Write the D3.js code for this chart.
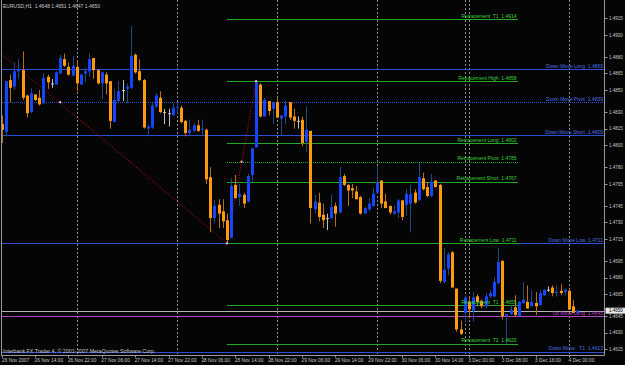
<!DOCTYPE html>
<html>
<head>
<meta charset="utf-8">
<script src="https://cdn.jsdelivr.net/npm/d3@7"></script>
<style>
  html, body { margin: 0; padding: 0; background: #050505; }
  svg { display: block; font-family: "Liberation Sans", Arial, sans-serif; }
</style>
</head>
<body>
<svg id="chart" width="625" height="365"></svg>
<script>
/* ── Data: EURUSD H1, first bar 26 Nov 2007 06:00 ─────────────────────────── */
const opens = [
  1.4819,1.4812,1.4859,1.4853,1.4867,1.4868,1.4845,1.4830,1.4846,1.4843,
  1.4838,1.4862,1.4856,1.4855,1.4865,1.4878,1.4871,1.4863,1.4871,1.4855,
  1.4865,1.4867,1.4879,1.4868,1.4856,1.4864,1.4858,1.4821,1.4840,1.4850,
  1.4851,1.4852,1.4882,1.4867,1.4859,1.4815,1.4816,1.4835,1.4843,1.4830,
  1.4829,1.4827,1.4834,1.4834,1.4822,1.4811,1.4813,1.4818,1.4814,1.4814,
  1.4771,1.4734,1.4746,1.4740,1.4732,1.4716,1.4764,1.4753,1.4755,1.4749,
  1.4773,1.4798,1.4855,1.4826,1.4840,1.4833,1.4839,1.4824,1.4826,1.4839,
  1.4826,1.4822,1.4823,1.4803,1.4813,1.4742,1.4748,1.4737,1.4734,1.4734,
  1.4745,1.4739,1.4772,1.4764,1.4761,1.4758,1.4753,1.4738,1.4742,1.4745,
  1.4757,1.4768,1.4749,1.4745,1.4738,1.4739,1.4750,1.4746,1.4747,1.4757,
  1.4750,1.4770,1.4762,1.4754,1.4768,1.4764,1.4676,1.4688,1.4703,1.4670,
  1.4633,1.4648,1.4658,1.4650,1.4663,1.4659,1.4654,1.4663,1.4663,1.4675,
  1.4695,1.4645,1.4647,1.4653,1.4645,1.4657,1.4658,1.4654,1.4657,1.4655,
  1.4664,1.4669,1.4671,1.4666,1.4668,1.4667,1.4668,1.4654,1.4648
];
const highs = [
  1.4827,1.4858,1.4864,1.4875,1.4878,1.4885,1.4846,1.4852,1.4846,1.4850,
  1.4865,1.4864,1.4860,1.4867,1.4882,1.4883,1.4875,1.4881,1.4877,1.4865,
  1.4870,1.4883,1.4879,1.4869,1.4867,1.4866,1.4858,1.4851,1.4858,1.4859,
  1.4856,1.4908,1.4883,1.4878,1.4860,1.4819,1.4838,1.4847,1.4849,1.4833,
  1.4833,1.4838,1.4839,1.4836,1.4823,1.4823,1.4820,1.4823,1.4823,1.4815,
  1.4780,1.4750,1.4751,1.4751,1.4738,1.4770,1.4773,1.4765,1.4757,1.4774,
  1.4798,1.4858,1.4856,1.4843,1.4840,1.4839,1.4843,1.4827,1.4840,1.4839,
  1.4833,1.4826,1.4826,1.4835,1.4813,1.4755,1.4757,1.4747,1.4738,1.4755,
  1.4748,1.4780,1.4774,1.4765,1.4765,1.4763,1.4754,1.4744,1.4752,1.4761,
  1.4781,1.4768,1.4756,1.4745,1.4745,1.4751,1.4750,1.4760,1.4764,1.4760,
  1.4784,1.4775,1.4766,1.4774,1.4768,1.4765,1.4707,1.4703,1.4704,1.4670,
  1.4641,1.4664,1.4663,1.4667,1.4665,1.4660,1.4666,1.4669,1.4680,1.4707,
  1.4696,1.4647,1.4654,1.4664,1.4659,1.4676,1.4673,1.4669,1.4667,1.4669,
  1.4669,1.4672,1.4673,1.4673,1.4674,1.4670,1.4670,1.4660,1.4651
];
const lows = [
  1.4802,1.4808,1.4839,1.4850,1.4860,1.4841,1.4825,1.4829,1.4840,1.4836,
  1.4837,1.4851,1.4852,1.4855,1.4865,1.4871,1.4863,1.4863,1.4849,1.4855,
  1.4857,1.4862,1.4860,1.4855,1.4842,1.4846,1.4815,1.4821,1.4838,1.4840,
  1.4838,1.4851,1.4865,1.4858,1.4815,1.4808,1.4815,1.4834,1.4829,1.4819,
  1.4817,1.4827,1.4829,1.4820,1.4808,1.4809,1.4812,1.4812,1.4808,1.4765,
  1.4721,1.4729,1.4725,1.4725,1.4711,1.4716,1.4752,1.4745,1.4743,1.4748,
  1.4767,1.4798,1.4825,1.4826,1.4827,1.4819,1.4825,1.4808,1.4819,1.4823,
  1.4815,1.4815,1.4799,1.4794,1.4729,1.4738,1.4731,1.4725,1.4723,1.4733,
  1.4726,1.4738,1.4763,1.4745,1.4752,1.4751,1.4737,1.4738,1.4740,1.4744,
  1.4756,1.4743,1.4743,1.4737,1.4737,1.4734,1.4732,1.4736,1.4721,1.4747,
  1.4750,1.4759,1.4753,1.4753,1.4762,1.4675,1.4675,1.4682,1.4671,1.4631,
  1.4628,1.4639,1.4643,1.4640,1.4654,1.4652,1.4652,1.4661,1.4662,1.4674,
  1.4642,1.4620,1.4646,1.4645,1.4645,1.4656,1.4652,1.4654,1.4646,1.4655,
  1.4663,1.4667,1.4663,1.4663,1.4664,1.4664,1.4651,1.4648,1.4647
];
const closes = [
  1.4814,1.4858,1.4852,1.4867,1.4869,1.4843,1.4829,1.4847,1.4841,1.4837,
  1.4861,1.4857,1.4856,1.4866,1.4879,1.4872,1.4864,1.4872,1.4856,1.4864,
  1.4867,1.4878,1.4868,1.4856,1.4866,1.4856,1.4822,1.4841,1.4849,1.4850,
  1.4853,1.4881,1.4866,1.4859,1.4816,1.4817,1.4836,1.4845,1.4830,1.4830,
  1.4829,1.4834,1.4835,1.4821,1.4811,1.4814,1.4818,1.4813,1.4815,1.4769,
  1.4734,1.4745,1.4738,1.4731,1.4714,1.4763,1.4752,1.4756,1.4747,1.4772,
  1.4797,1.4857,1.4826,1.4841,1.4831,1.4839,1.4825,1.4827,1.4836,1.4825,
  1.4822,1.4822,1.4802,1.4814,1.4743,1.4749,1.4735,1.4732,1.4734,1.4744,
  1.4738,1.4771,1.4764,1.4759,1.4759,1.4751,1.4738,1.4743,1.4747,1.4756,
  1.4766,1.4747,1.4743,1.4739,1.4740,1.4750,1.4735,1.4756,1.4756,1.4748,
  1.4771,1.4760,1.4754,1.4767,1.4762,1.4677,1.4687,1.4701,1.4671,1.4633,
  1.4629,1.4662,1.4651,1.4662,1.4658,1.4654,1.4663,1.4666,1.4676,1.4694,
  1.4645,1.4647,1.4651,1.4646,1.4658,1.4660,1.4652,1.4658,1.4654,1.4666,
  1.4669,1.4669,1.4666,1.4667,1.4666,1.4669,1.4651,1.4648,1.4650
];

// time axis labels, one every 8 bars
const timeLabelBars = [0, 8, 16, 24, 32, 40, 48, 56, 64, 72, 80, 88, 96, 104, 112, 120, 128, 136];
const timeLabels = [
  "26 Nov 2007", "26 Nov 14:00", "26 Nov 22:00", "27 Nov 06:00", "27 Nov 14:00",
  "27 Nov 22:00", "28 Nov 06:00", "28 Nov 14:00", "28 Nov 22:00", "29 Nov 06:00",
  "29 Nov 14:00", "29 Nov 22:00", "30 Nov 06:00", "30 Nov 14:00", "3 Dec 00:00",
  "3 Dec 08:00", "3 Dec 16:00", "4 Dec 00:00"
];
const separatorBars = [18, 42, 66, 90, 111, 112, 136];

// price axis
const priceTicks = [
  1.4915, 1.4900, 1.4880, 1.4865, 1.4850, 1.4830, 1.4815, 1.4800, 1.4780,
  1.4765, 1.4745, 1.4730, 1.4715, 1.4695, 1.4680, 1.4665, 1.4645, 1.4630, 1.4615
];
const bidPrice = 1.4650;

// fibo levels drawn by the indicator
const downMoveNames  = ["Down Move Long", "Down Move Pivot", "Down Move Short", "Down Move Low", "Down Move   T1"];
const downMoveValues = [1.4869, 1.4839, 1.4809, 1.4711, 1.4613];
const downMoveDotted = [false, true, false, false, false];

const retrNames  = ["Retracement  T1", "Retracement High", "Retracement Long", "Retracement Pivot",
                    "Retracement Short", "Retracement Low", "Retracement  T1", "Retracement  T2"];
const retrValues = [1.4914, 1.4858, 1.4802, 1.4785, 1.4767, 1.4711, 1.4655, 1.4620];
const retrDotted = [false, false, false, true, false, false, false, false];
const retrStartBar = 54, retrEndBar = 123.7;

const upMoveName = "Up Move Long", upMoveValue = 1.4645;

// zigzag swing points [bar, price] and the pivot marks on its legs
const zigzagBars   = [-27, 54, 61];
const zigzagPrices = [1.4968, 1.4711, 1.4858];
const markBars   = [14, 54, 57.5, 61];
const markPrices = [1.4839, 1.4711, 1.4785, 1.4858];

/* ── Colors ─────────────────────────────────────────────────────────────────── */
const BG = "#050505", AXIS = "#9a9a9a", TEXT = "#c8c8c8";
const BULL = "#1446ff", BEAR = "#ff9a0e", DOJI = "#c0c0c0";
const BULL_WICK = "#1d4a82", BEAR_WICK = "#b8700c";
const GREEN_LINE = "#22a822", GREEN_TEXT = "#3ccf3c";
const BLUE_LINE = "#2a4ed8", BLUE_TEXT = "#4a6fe0";
const MAGENTA = "#b044c4";

/* ── Layout ─────────────────────────────────────────────────────────────────── */
const W = 625, H = 365;
const plotRight = 604.5, plotBottom = 355.5;

const svg = d3.select("#chart");
svg.append("rect").attr("width", W).attr("height", H).attr("fill", BG);

const x = d3.scaleLinear().domain([0, 144.4]).range([1.7, 604]);
const y = d3.scaleLinear().domain([1.4615, 1.4915]).range([349.3, 18.3]);
const px = v => Math.round(v) + 0.5;

svg.append("clipPath").attr("id", "plot-clip")
  .append("rect").attr("x", 1).attr("y", 0).attr("width", plotRight - 1).attr("height", plotBottom);

const plot = svg.append("g").attr("clip-path", "url(#plot-clip)");

/* ── Period separators ──────────────────────────────────────────────────────── */
plot.selectAll("line.sep")
  .data(separatorBars)
  .join("line")
  .attr("class", "sep")
  .attr("x1", d => px(x(d))).attr("x2", d => px(x(d)))
  .attr("y1", 0).attr("y2", plotBottom)
  .attr("stroke", "#8a8a8a").attr("stroke-width", 1)
  .attr("stroke-dasharray", "2,2");

/* ── Horizontal levels ──────────────────────────────────────────────────────── */
const downMove = downMoveNames.map((n, i) => ({ name: n, value: downMoveValues[i], dotted: downMoveDotted[i] }));
const retr = retrNames.map((n, i) => ({ name: n, value: retrValues[i], dotted: retrDotted[i] }));

plot.selectAll("line.dm")
  .data(downMove)
  .join("line")
  .attr("class", "dm")
  .attr("x1", 0).attr("x2", plotRight)
  .attr("y1", d => px(y(d.value))).attr("y2", d => px(y(d.value)))
  .attr("stroke", BLUE_LINE).attr("stroke-width", 1)
  .attr("shape-rendering", "crispEdges")
  .attr("stroke-dasharray", d => d.dotted ? "1,1" : null);

plot.selectAll("line.rt")
  .data(retr)
  .join("line")
  .attr("class", "rt")
  .attr("x1", x(retrStartBar)).attr("x2", x(retrEndBar))
  .attr("y1", d => px(y(d.value))).attr("y2", d => px(y(d.value)))
  .attr("stroke", GREEN_LINE).attr("stroke-width", 1)
  .attr("shape-rendering", "crispEdges")
  .attr("stroke-dasharray", d => d.dotted ? "1,1" : null);

// bid line and up-move level
plot.append("line")
  .attr("x1", 0).attr("x2", plotRight)
  .attr("y1", px(y(bidPrice))).attr("y2", px(y(bidPrice)))
  .attr("shape-rendering", "crispEdges")
  .attr("stroke", "#b4b4b4");
plot.append("line")
  .attr("x1", 0).attr("x2", plotRight)
  .attr("y1", px(y(upMoveValue))).attr("y2", px(y(upMoveValue)))
  .attr("shape-rendering", "crispEdges")
  .attr("stroke", MAGENTA);

/* ── Level labels ───────────────────────────────────────────────────────────── */
const fmt = d3.format(".4f");
plot.selectAll("text.dm")
  .data(downMove)
  .join("text")
  .attr("class", "dm")
  .attr("x", 603).attr("y", d => y(d.value) - 1.3)
  .attr("text-anchor", "end").attr("font-size", 5).attr("fill", BLUE_TEXT)
  .attr("xml:space", "preserve")
  .text(d => `${d.name}  ${fmt(d.value)}`);

/* ── Zigzag ─────────────────────────────────────────────────────────────────── */
const zz = zigzagBars.map((b, i) => [x(b), y(zigzagPrices[i])]);
plot.append("path")
  .attr("d", d3.line()(zz))
  .attr("fill", "none").attr("stroke", "#c01010").attr("stroke-width", 1)
  .attr("stroke-dasharray", "1,1.6");

/* ── Candles ────────────────────────────────────────────────────────────────── */
const bars = opens.map((o, i) => ({ i, o, h: highs[i], l: lows[i], c: closes[i] }));
const kind = d => d.c > d.o ? "bull" : d.c < d.o ? "bear" : "doji";

const candle = plot.append("g").selectAll("g")
  .data(bars)
  .join("g");

candle.append("line")
  .attr("x1", d => px(x(d.i))).attr("x2", d => px(x(d.i)))
  .attr("y1", d => y(d.h)).attr("y2", d => y(d.l))
  .attr("stroke", d => ({ bull: BULL_WICK, bear: BEAR_WICK, doji: DOJI })[kind(d)]);

candle.append("rect")
  .attr("x", d => Math.round(x(d.i)) - 1)
  .attr("width", 3)
  .attr("y", d => y(Math.max(d.o, d.c)))
  .attr("height", d => Math.max(1, y(Math.min(d.o, d.c)) - y(Math.max(d.o, d.c))))
  .attr("fill", d => ({ bull: BULL, bear: BEAR, doji: DOJI })[kind(d)]);

/* ── Retracement labels (drawn over bars like the terminal does) ───────────── */
plot.selectAll("text.rt")
  .data(retr)
  .join("text")
  .attr("class", "rt")
  .attr("x", x(retrEndBar) - 1).attr("y", d => y(d.value) - 1.3)
  .attr("text-anchor", "end").attr("font-size", 5).attr("fill", GREEN_TEXT)
  .attr("xml:space", "preserve")
  .text(d => `${d.name}  ${fmt(d.value)}`);

plot.append("text")
  .attr("x", 603).attr("y", y(upMoveValue) - 1.3)
  .attr("text-anchor", "end").attr("font-size", 5).attr("fill", MAGENTA)
  .attr("xml:space", "preserve")
  .text(`${upMoveName}  ${fmt(upMoveValue)}`);

plot.selectAll("rect.mk")
  .data(markBars.map((b, i) => [b, markPrices[i]]))
  .join("rect")
  .attr("class", "mk")
  .attr("x", d => x(d[0]) - 1).attr("y", d => y(d[1]) - 1)
  .attr("width", 2).attr("height", 2).attr("fill", "#ffc0c0");

/* ── Frame & axes ───────────────────────────────────────────────────────────── */
svg.append("line").attr("x1", 1.5).attr("x2", 1.5).attr("y1", 0).attr("y2", plotBottom).attr("stroke", AXIS);
svg.append("line").attr("x1", plotRight).attr("x2", plotRight).attr("y1", 0).attr("y2", plotBottom).attr("stroke", AXIS);
svg.append("line").attr("x1", 1).attr("x2", plotRight).attr("y1", plotBottom).attr("y2", plotBottom).attr("stroke", AXIS);

const yAxis = svg.append("g");
yAxis.selectAll("line")
  .data(priceTicks)
  .join("line")
  .attr("x1", plotRight).attr("x2", plotRight + 3)
  .attr("y1", d => px(y(d))).attr("y2", d => px(y(d)))
  .attr("stroke", AXIS);
yAxis.selectAll("text")
  .data(priceTicks)
  .join("text")
  .attr("x", 609).attr("y", d => y(d) + 1.7)
  .attr("font-size", 4.5).attr("fill", TEXT)
  .text(d => fmt(d));

// bid price box
svg.append("rect")
  .attr("x", 605.5).attr("y", y(bidPrice) - 3).attr("width", 19.5).attr("height", 6)
  .attr("fill", "#e8e8e8");
svg.append("text")
  .attr("x", 609).attr("y", y(bidPrice) + 1.7)
  .attr("font-size", 4.5).attr("fill", "#000")
  .text(fmt(bidPrice));

const xAxis = svg.append("g");
xAxis.selectAll("line")
  .data(timeLabelBars)
  .join("line")
  .attr("x1", d => px(x(d))).attr("x2", d => px(x(d)))
  .attr("y1", plotBottom).attr("y2", plotBottom + 2)
  .attr("stroke", AXIS);
xAxis.selectAll("text")
  .data(timeLabelBars)
  .join("text")
  .attr("x", d => Math.max(2, x(d) - 0.5)).attr("y", 361.5)
  .attr("font-size", 4.8).attr("fill", TEXT)
  .text((d, i) => timeLabels[i]);

/* ── Header & copyright ─────────────────────────────────────────────────────── */
const last = bars[bars.length - 1];
svg.append("text")
  .attr("x", 3).attr("y", 8)
  .attr("font-size", 5).attr("fill", TEXT)
  .attr("xml:space", "preserve")
  .text(`EURUSD,H1  ${fmt(last.o)} ${fmt(last.h)} ${fmt(last.l)} ${fmt(last.c)}`);

svg.append("text")
  .attr("x", 3).attr("y", 353)
  .attr("font-size", 5.3).attr("fill", TEXT)
  .text("Interbank FX Trader 4, \u00a9 2001-2007 MetaQuotes Software Corp.");
</script>
</body>
</html>
